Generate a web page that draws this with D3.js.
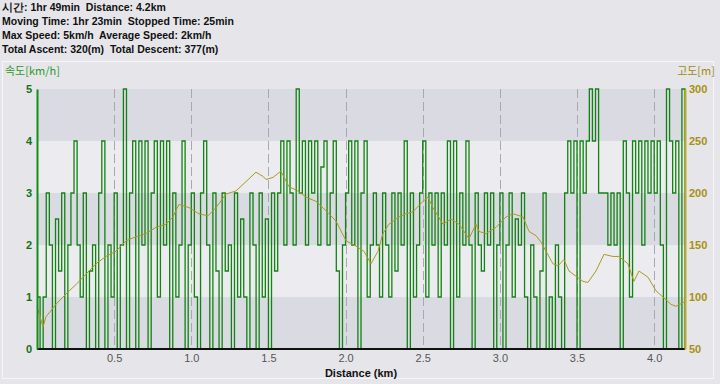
<!DOCTYPE html>
<html><head><meta charset="utf-8">
<script src="https://cdn.jsdelivr.net/npm/d3@7"></script>
<style>body{margin:0;background:#e6e6ea;}svg{display:block;}text{white-space:pre;}</style>
</head><body>
<script>
const headerLines = ["시간: 1hr 49min  Distance: 4.2km","Moving Time: 1hr 23min  Stopped Time: 25min","Max Speed: 5km/h  Average Speed: 2km/h","Total Ascent: 320(m)  Total Descent: 377(m)"];
const speedStepKm = 0.02;
const speed = [
1,0,1,3,2,0,2.5,1.5,3,0,
2,3,4,2,1,3,0,1.5,2,0,
3,4,0,2,1,3,0,2,5,0,
3,4,0,4,2,4,0,3,4,1,
4,2,4,0,3,1,2,4,0,2,
3,1,0,3,4,2,0,3,1.5,0,
3,1.5,2,0,3,1,2.5,1,0,3,
2,0,3,1,2.5,0,3,1.5,3,4,
2,4,3,2,5,3,4,2,4,3,
4,2,3.5,4,2,3,4,1.5,0,2,
3,4,2,4,0,3,4,1,2,3,
2,1,3,2,1,3,1.5,3,2,4,
0,3,1,2,3,4,1,3,2,3,
1,3,2,4,0,4,1,3,2,4,
2,0,3,2,1.5,3,2,3,0,2,
3,0,2,3,1,2.5,2,3,1,0,
2,1,0,1.5,3,0,1,0,2,1,
0,3,4,3,4,0,4,3,4,5,
4,5,3,3,3,2,3,2,3,0,
4,3,1,4,3,4,2,4,3,4,
3,4,2,0,5,4,3,4,0,5,0];
const altKm = [0,0.039,0.058,0.123,0.188,0.253,0.318,0.382,0.447,0.512,0.577,0.642,0.706,0.771,0.836,0.881,0.920,0.985,1.050,1.108,1.160,1.225,1.290,1.355,1.419,1.465,1.484,1.530,1.581,1.633,1.692,1.743,1.808,1.873,1.938,2.003,2.067,2.119,2.165,2.210,2.242,2.281,2.346,2.391,2.437,2.502,2.534,2.566,2.631,2.683,2.735,2.800,2.845,2.865,2.910,2.975,3.040,3.085,3.150,3.189,3.234,3.266,3.299,3.344,3.377,3.415,3.448,3.539,3.571,3.623,3.675,3.733,3.772,3.830,3.869,3.902,3.960,4.012,4.057,4.109,4.141,4.193];
const altM = [91,71,81,93,103,112,122,132,139,144,154,158,161,167,170,177,189,186,180,178,186,199,202,211,220,216,213,215,221,206,202,196,192,183,173,154,149,144,132,144,161,170,177,180,182,192,196,186,170,175,170,156,170,163,161,167,177,180,177,163,159,153,144,132,130,136,125,115,114,125,141,139,139,132,115,125,119,106,100,93,91,95];
const xTicks = [0.5,1.0,1.5,2.0,2.5,3.0,3.5,4.0];
const speedTicks = [0,1,2,3,4,5];
const altTicks = [50,100,150,200,250,300];

const W=720,H=384;
const L=37,R=685,T=89,B=349;
const svg=d3.select("body").append("svg").attr("width",W).attr("height",H);
const x=d3.scaleLinear().domain([0,4.2]).range([L,R]);
const ys=d3.scaleLinear().domain([0,5]).range([B,T]);
const ya=d3.scaleLinear().domain([50,300]).range([B,T]);

svg.append("rect").attr("width",W).attr("height",H).attr("fill","#e6e6ea");
svg.append("rect").attr("x",2.5).attr("y",61.5).attr("width",711).attr("height",317).attr("fill","none").attr("stroke","#f6f6f8");

const hdr=svg.append("g").attr("font-family","Liberation Sans, Arial, sans-serif").attr("font-size",10.5).attr("font-weight","bold").attr("fill","#111");
headerLines.forEach((t,i)=>hdr.append("text").attr("x",2).attr("y",11+i*14).attr("xml:space","preserve").text(t));

// bands
for(let i=0;i<5;i++){
  svg.append("rect").attr("x",L).attr("y",ys(i+1)).attr("width",R-L).attr("height",ys(i)-ys(i+1))
    .attr("fill", i%2===0?"#dadae2":"#ececf0");
}
// gridlines
svg.append("g").selectAll("line").data(xTicks).join("line")
  .attr("x1",d=>Math.round(x(d))+0.5).attr("x2",d=>Math.round(x(d))+0.5).attr("y1",T).attr("y2",B)
  .attr("stroke","#a8a8b0").attr("stroke-dasharray","9,4");

// speed
const sp=speed.map((v,i)=>[i*speedStepKm,v]);
svg.append("path").datum(sp).attr("fill","none").attr("stroke","#128212").attr("stroke-width",1.3)
  .attr("d",d3.line().x(d=>x(d[0])).y(d=>ys(d[1])).curve(d3.curveStepAfter));

// altitude
svg.append("path").datum(altKm.map((k,i)=>[k,altM[i]])).attr("fill","none").attr("stroke","#a89a20").attr("stroke-width",1)
  .attr("d",d3.line().x(d=>x(d[0])).y(d=>ya(d[1])));

// axes
const xa=svg.append("g").attr("transform",`translate(0,${B})`).call(d3.axisBottom(x).tickValues(xTicks).tickSize(0).tickFormat(d3.format(".1f")));
xa.select(".domain").attr("stroke","#111").attr("stroke-width",2).attr("d",`M${L},0H${R}`);
xa.selectAll("text").attr("font-family","Liberation Sans, Arial, sans-serif").attr("font-size",11).attr("fill","#555").attr("dy","0.9em");

const la=svg.append("g").attr("transform",`translate(${L},0)`).call(d3.axisLeft(ys).tickValues(speedTicks).tickSize(0).tickFormat(d3.format("d")));
la.select(".domain").attr("stroke","#119011").attr("stroke-width",2);
la.selectAll("text").attr("font-family","Liberation Sans, Arial, sans-serif").attr("font-size",11).attr("font-weight","bold").attr("fill","#147014").attr("dx","-2");

const ra=svg.append("g").attr("transform",`translate(${R},0)`).call(d3.axisRight(ya).tickValues(altTicks).tickSize(0).tickFormat(d3.format("d")));
ra.select(".domain").attr("stroke","#c0a830").attr("stroke-width",2);
ra.selectAll("text").attr("font-family","Liberation Sans, Arial, sans-serif").attr("font-size",11).attr("font-weight","bold").attr("fill","#a89010").attr("dx","1");

svg.append("text").attr("x",5).attr("y",75).attr("font-family","Noto Sans CJK KR, Liberation Sans, sans-serif").attr("font-size",11).attr("fill","#2a9a2a").text("속도[km/h]");
svg.append("text").attr("x",715).attr("y",75).attr("text-anchor","end").attr("font-family","Noto Sans CJK KR, Liberation Sans, sans-serif").attr("font-size",11).attr("fill","#a08a10").text("고도[m]");
svg.append("text").attr("x",361).attr("y",377).attr("text-anchor","middle").attr("font-family","Liberation Sans, Arial, sans-serif").attr("font-size",11).attr("font-weight","bold").attr("fill","#111").text("Distance (km)");
</script>
</body></html>
